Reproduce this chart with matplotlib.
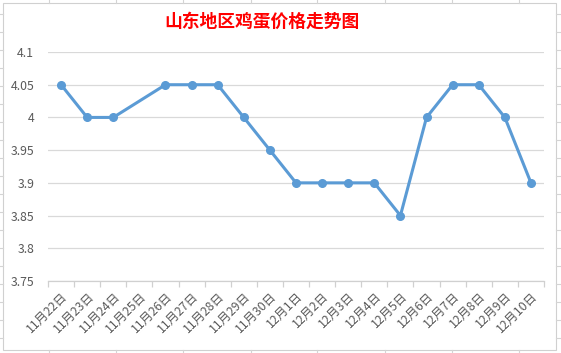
import numpy as np
import matplotlib
matplotlib.use("Agg")
import matplotlib.pyplot as plt
from matplotlib.lines import Line2D

plt.rcParams['font.family'] = ['Noto Sans CJK SC', 'DejaVu Sans']

dates = ["11月22日", "11月23日", "11月24日", "11月25日", "11月26日", "11月27日",
         "11月28日", "11月29日", "11月30日", "12月1日", "12月2日", "12月3日",
         "12月4日", "12月5日", "12月6日", "12月7日", "12月8日", "12月9日", "12月10日"]
prices = [4.05, 4.0, 4.0, np.nan, 4.05, 4.05, 4.05, 4.0, 3.95, 3.9, 3.9, 3.9,
          3.9, 3.85, 4.0, 4.05, 4.05, 4.0, 3.9]
yticks = [3.75, 3.8, 3.85, 3.9, 3.95, 4.0, 4.05, 4.1]
ytick_labels = ["3.75", "3.8", "3.85", "3.9", "3.95", "4", "4.05", "4.1"]
title = "山东地区鸡蛋价格走势图"

W, H = 561, 353
fig = plt.figure(figsize=(W / 100, H / 100), dpi=100)
fig.patch.set_facecolor("white")

# spreadsheet cell lines outside the chart
gc = "#d4d4d4"
for xp in [49, 116, 183, 251, 317, 385, 452, 519]:
    fig.add_artist(Line2D([xp / W, xp / W], [1, 1 - 3 / H], color=gc, lw=0.8))
    fig.add_artist(Line2D([xp / W, xp / W], [0, 3 / H], color=gc, lw=0.8))
for yp in range(14, 353, 18):
    fig.add_artist(Line2D([0, 3 / W], [1 - yp / H, 1 - yp / H], color=gc, lw=0.8))
    fig.add_artist(Line2D([556 / W, 1], [1 - yp / H, 1 - yp / H], color=gc, lw=0.8))
# chart border
fig.add_artist(plt.Rectangle((3 / W, 3 / H), 553 / W, 347 / H, transform=fig.transFigure,
                             fill=False, edgecolor="#d0d0d0", lw=0.8))

left, right, top, bottom = 48, 544, 52, 281
ax = fig.add_axes([left / W, 1 - bottom / H, (right - left) / W, (bottom - top) / H])

x = np.arange(len(dates))
p = np.array(prices, dtype=float)
mask = ~np.isnan(p)
ax.plot(x[mask], p[mask], color="#5B9BD5", lw=2.2, marker="o", ms=5.5,
        markerfacecolor="#5B9BD5", markeredgecolor="#5B9BD5", solid_joinstyle="round", zorder=3)

ax.set_xlim(-0.5, len(dates) - 0.5)
ax.set_ylim(3.75, 4.1)
ax.set_yticks(yticks)
ax.set_yticklabels(ytick_labels)
ax.grid(axis="y", color="#d9d9d9", lw=0.9)
ax.set_axisbelow(True)

for s in ["top", "right", "left"]:
    ax.spines[s].set_visible(False)
ax.spines["bottom"].set_color("#d0d0d0")
ax.spines["bottom"].set_linewidth(0.9)

ax.set_xticks(x)
ax.set_xticklabels(dates, rotation=45, ha="right", va="top", rotation_mode="anchor")
ax.set_xticks(np.arange(-0.5, len(dates), 1), minor=True)
ax.tick_params(axis="x", which="major", length=0, pad=6, labelsize=8.8, labelcolor="#595959")
ax.tick_params(axis="x", which="minor", length=4, color="#d0d0d0", width=0.9)
ax.tick_params(axis="y", length=0, pad=10, labelsize=8.8, labelcolor="#595959")

fig.text(262 / W, 1 - 22 / H, title, color="red", fontsize=12.8, fontweight="bold",
         ha="center", va="center")

fig.savefig("out.png", dpi=100)
